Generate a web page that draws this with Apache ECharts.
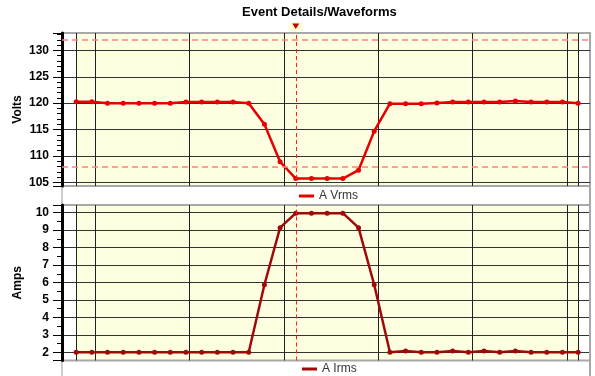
<!DOCTYPE html>
<html><head><meta charset="utf-8">
<script src="https://cdn.jsdelivr.net/npm/echarts@6/dist/echarts.min.js"></script>
<style>html,body{margin:0;padding:0;background:#fff}#c{width:595px;height:376px}</style>
</head><body><div id="c"></div>
<script>
// ---- data ----
const titleText = 'Event Details/Waveforms';
const voltsName = 'Volts';
const ampsName = 'Amps';
const vrmsName = 'A Vrms';
const irmsName = 'A Irms';
const vrms = [120.25, 120.25, 120.0, 120.0, 120.0, 120.0, 120.0, 120.2, 120.2, 120.2, 120.2, 120.0,
  116.0, 108.9, 105.7, 105.7, 105.7, 105.7, 107.3, 114.7, 119.9, 119.9, 119.9, 120.05,
  120.2, 120.2, 120.2, 120.2, 120.4, 120.2, 120.2, 120.2, 120.0];
const irms = [2.0, 2.0, 2.0, 2.0, 2.0, 2.0, 2.0, 2.0, 2.0, 2.0, 2.0, 2.0,
  5.87, 9.14, 9.97, 9.97, 9.97, 9.97, 9.14, 5.87, 2.0, 2.08, 2.0, 2.0,
  2.08, 2.0, 2.08, 2.0, 2.08, 2.0, 2.0, 2.0, 2.0];
const sampleStartMs = -20;
const samplePeriodMs = 16.62;
const triggerIndex = 14;
const voltLimits = [132, 108];
const voltRange = [104.3, 133.3];
const ampRange = [1.53, 10.44];
const timeRange = [-35, 524.4];
const timeStepMs = 100;

const times = vrms.map((_, i) => sampleStartMs + i * samplePeriodMs);
const vData = vrms.map((v, i) => [times[i], v]);
const iData = irms.map((v, i) => [times[i], v]);
const triggerTime = times[triggerIndex];

const FONT = '"Liberation Sans", Arial, sans-serif';
const vColor = '#e60000';
const iColor = '#9e0a0a';

function xAxisFor(g) {
  return {
    gridIndex: g, type: 'value', min: timeRange[0], max: timeRange[1],
    minInterval: timeStepMs, maxInterval: timeStepMs,
    axisLine: {show: false, onZero: false}, axisTick: {show: false}, axisLabel: {show: false},
    splitLine: {show: true, showMinLine: false, showMaxLine: false, lineStyle: {color: '#222', width: 1}}
  };
}
function yAxisFor(g, range, step, minorSplit, name) {
  return {
    gridIndex: g, type: 'value', min: range[0], max: range[1],
    minInterval: step, maxInterval: step,
    name: name, nameLocation: 'middle', nameGap: 38, nameMoveOverlap: false,
    nameTextStyle: {fontFamily: FONT, fontWeight: 'bold', fontSize: 12, color: '#000'},
    axisLine: {show: true, onZero: false, lineStyle: {color: '#000', width: 3}},
    axisTick: {show: true, length: 9, lineStyle: {color: '#000', width: 1}},
    minorTick: {show: true, splitNumber: minorSplit, length: 5, lineStyle: {color: '#000', width: 1}},
    axisLabel: {fontFamily: FONT, fontWeight: 'bold', fontSize: 12, color: '#000', margin: 13,
      showMinLabel: false, showMaxLabel: false},
    splitLine: {show: true, showMinLine: false, showMaxLine: false, lineStyle: {color: '#333', width: 1}}
  };
}
function bandSeries(g) {
  return {
    type: 'line', name: 'band' + g, xAxisIndex: g, yAxisIndex: g, data: [], silent: true,
    markArea: {silent: true, z: -1, itemStyle: {color: '#fefee0'},
      data: [[{xAxis: times[0]}, {xAxis: times[times.length - 1]}]]},
    markLine: {silent: true, z: 1, symbol: 'none', label: {show: false},
      lineStyle: {color: '#222', width: 1, type: 'solid'},
      data: [{xAxis: times[0]}, {xAxis: times[times.length - 1]}]}
  };
}

const chart = echarts.init(document.getElementById('c'), null, {renderer: 'canvas'});
chart.setOption({
  animation: false,
  backgroundColor: '#fff',
  title: {text: titleText, left: 242, top: 6, padding: 0,
    textStyle: {fontFamily: FONT, fontWeight: 'bold', fontSize: 13, color: '#000'}},
  grid: [
    {left: 62, right: 5, top: 33, height: 153, show: true, backgroundColor: 'transparent', borderColor: '#a8a8a8', borderWidth: 2},
    {left: 62, right: 5, top: 205, height: 155.5, show: true, backgroundColor: 'transparent', borderColor: '#a8a8a8', borderWidth: 2}
  ],
  legend: [
    {data: [vrmsName], left: 299, top: 190, padding: 0, icon: 'rect', itemWidth: 15, itemHeight: 3, itemGap: 5,
      textStyle: {fontFamily: FONT, fontSize: 12, color: '#333'}},
    {data: [irmsName], left: 302, top: 363, padding: 0, icon: 'rect', itemWidth: 15, itemHeight: 3, itemGap: 5,
      textStyle: {fontFamily: FONT, fontSize: 12, color: '#333'}}
  ],
  xAxis: [xAxisFor(0), xAxisFor(1)],
  yAxis: [yAxisFor(0, voltRange, 5, 5, voltsName), yAxisFor(1, ampRange, 1, 2, ampsName)],
  series: [
    bandSeries(0), bandSeries(1),
    {
      type: 'line', name: vrmsName, xAxisIndex: 0, yAxisIndex: 0, data: vData,
      symbol: 'circle', symbolSize: 5, color: vColor,
      lineStyle: {color: vColor, width: 2.5}, itemStyle: {color: vColor},
      markLine: {silent: true, symbol: 'none', label: {show: false},
        data: [
          {yAxis: voltLimits[0], lineStyle: {color: '#ff8080', width: 1.5, type: [6, 4]}},
          {yAxis: voltLimits[1], lineStyle: {color: '#ff8080', width: 1.5, type: [6, 4]}},
          {xAxis: triggerTime, lineStyle: {color: '#ff2020', width: 1, type: [4, 3]}}
        ]}
    },
    {
      type: 'line', name: irmsName, xAxisIndex: 1, yAxisIndex: 1, data: iData,
      symbol: 'circle', symbolSize: 5, color: iColor,
      lineStyle: {color: iColor, width: 2.5}, itemStyle: {color: iColor},
      markLine: {silent: true, symbol: 'none', label: {show: false},
        data: [{xAxis: triggerTime, lineStyle: {color: '#ff2020', width: 1, type: [4, 3]}}]}
    }
  ]
});

// decorations positioned from the axes
const tx = chart.convertToPixel({xAxisIndex: 0}, triggerTime);
const topY = chart.convertToPixel({yAxisIndex: 0}, voltRange[1]);
const leftX = chart.convertToPixel({xAxisIndex: 0}, timeRange[0]);
const rightX = chart.convertToPixel({xAxisIndex: 0}, timeRange[1]);
const midY = chart.convertToPixel({yAxisIndex: 0}, voltRange[0]);
chart.setOption({
  graphic: [
    {type: 'rect', shape: {x: tx - 7, y: topY - 11, width: 14, height: 9}, style: {fill: '#fffbd6'}, silent: true},
    {type: 'polygon', shape: {points: [[tx - 3.5, topY - 9.5], [tx + 3.5, topY - 9.5], [tx, topY - 4]]}, style: {fill: '#c00000'}, silent: true},
    {type: 'line', shape: {x1: leftX, y1: midY, x2: leftX, y2: 376}, style: {stroke: '#9a9a9a', lineWidth: 1}, silent: true},
    {type: 'line', shape: {x1: rightX, y1: midY, x2: rightX, y2: 376}, style: {stroke: '#a8a8a8', lineWidth: 2}, silent: true}
  ]
});
</script>
</body></html>
